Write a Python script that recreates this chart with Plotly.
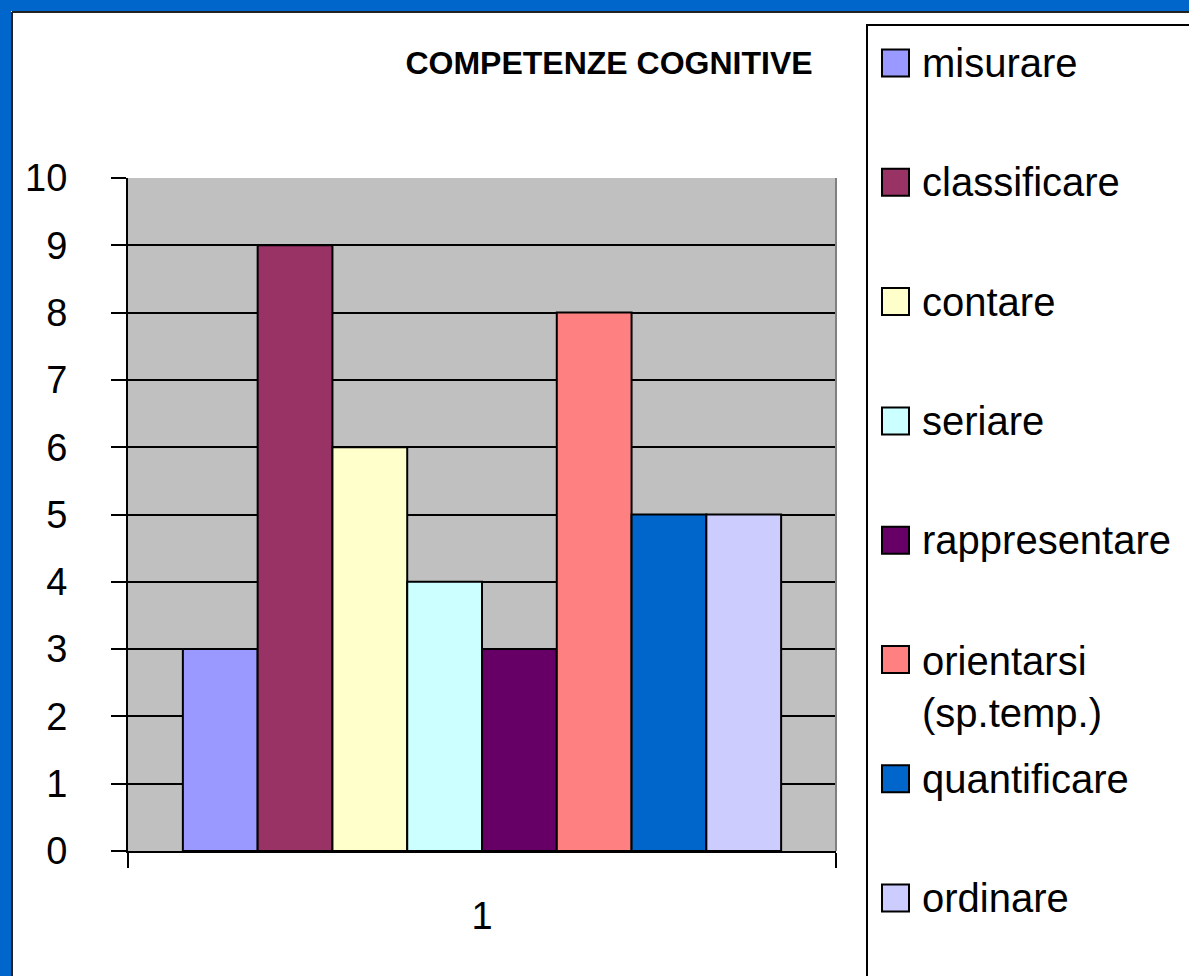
import plotly.graph_objects as go

# Data
categories = ["misurare", "classificare", "contare", "seriare", "rappresentare",
              "orientarsi<br>(sp.temp.)", "quantificare", "ordinare"]
values = [3, 9, 6, 4, 3, 8, 5, 5]
colors = ["#9999FF", "#993366", "#FFFFCC", "#CCFFFF", "#660066",
          "#FF8080", "#0066CC", "#CCCCFF"]
x_labels = ["1"]
y_ticks = list(range(0, 11))

W, H = 1189, 976
L, R, T, B = 128, 836, 178, 851  # plot area in pixels


def px(x):
    return (x - L) / (R - L)


def py(y):
    return (B - y) / (B - T)


FONT = "Liberation Sans, Arial, sans-serif"

fig = go.Figure()
for name, v, c in zip(categories, values, colors):
    fig.add_trace(go.Bar(
        x=x_labels, y=[v], name=name, showlegend=False,
        marker=dict(color=c, line=dict(color="black", width=2)),
    ))

shapes = []
# window frame
shapes.append(dict(type="rect", xref="paper", yref="paper", x0=px(-10), x1=px(11),
                   y0=py(1000), y1=py(-10), fillcolor="#0066CC", line_width=0, layer="above"))
shapes.append(dict(type="rect", xref="paper", yref="paper", x0=px(-10), x1=px(1210),
                   y0=py(11), y1=py(-10), fillcolor="#0066CC", line_width=0, layer="above"))
shapes.append(dict(type="line", xref="paper", yref="paper", x0=px(12), x1=px(12),
                   y0=py(1000), y1=py(12), line=dict(color="#222222", width=2), layer="above"))
shapes.append(dict(type="line", xref="paper", yref="paper", x0=px(12), x1=px(1210),
                   y0=py(12), y1=py(12), line=dict(color="#222222", width=2), layer="above"))
# right border of plot area
shapes.append(dict(type="line", xref="paper", yref="paper", x0=1, x1=1, y0=0, y1=1,
                   line=dict(color="#808080", width=2), layer="above"))
# legend box
shapes.append(dict(type="rect", xref="paper", yref="paper", x0=px(867), x1=px(1215),
                   y0=py(1000), y1=py(25), fillcolor="white",
                   line=dict(color="black", width=2), layer="above"))

annotations = []
step = 119.3
fs_leg = 40
for i, (name, c) in enumerate(zip(categories, colors)):
    yc = 63 + i * step
    shapes.append(dict(type="rect", xref="paper", yref="paper", x0=px(882), x1=px(909),
                       y0=py(yc + 13.5), y1=py(yc - 13.5), fillcolor=c,
                       line=dict(color="black", width=2), layer="above"))
    nlines = name.count("<br>") + 1
    annotations.append(dict(
        text=name, xref="paper", yref="paper", x=px(920), y=py(yc + (nlines - 1) * 27),
        xanchor="left", yanchor="middle", align="left", showarrow=False,
        font=dict(family=FONT, size=fs_leg, color="black"),
    ))

fig.update_layout(
    width=W, height=H,
    margin=dict(l=L, r=W - R, t=T, b=H - B, pad=0),
    paper_bgcolor="white", plot_bgcolor="#C0C0C0",
    barmode="group", bargap=0.155, bargroupgap=0,
    title=dict(text="<b>COMPETENZE COGNITIVE</b>", x=px(609), xref="paper", xanchor="center",
               y=1 - 63 / H, yref="container", yanchor="middle",
               font=dict(family=FONT, size=32, color="black")),
    shapes=shapes, annotations=annotations,
    font=dict(family=FONT, color="black"),
)
fig.update_xaxes(
    type="category", ticks="outside", tickson="boundaries", ticklen=15, tickwidth=2,
    tickcolor="black", showline=True, linecolor="black", linewidth=2,
    showgrid=False, tickfont=dict(size=38), ticklabelstandoff=30,
)
fig.update_yaxes(
    range=[0, 10], tickvals=y_ticks, ticks="outside", ticklen=15, tickwidth=2,
    tickcolor="black", showline=True, linecolor="black", linewidth=2,
    showgrid=True, gridcolor="black", gridwidth=2, zeroline=False,
    tickfont=dict(size=38), ticklabelstandoff=36,
)

fig.write_html("out.html")
